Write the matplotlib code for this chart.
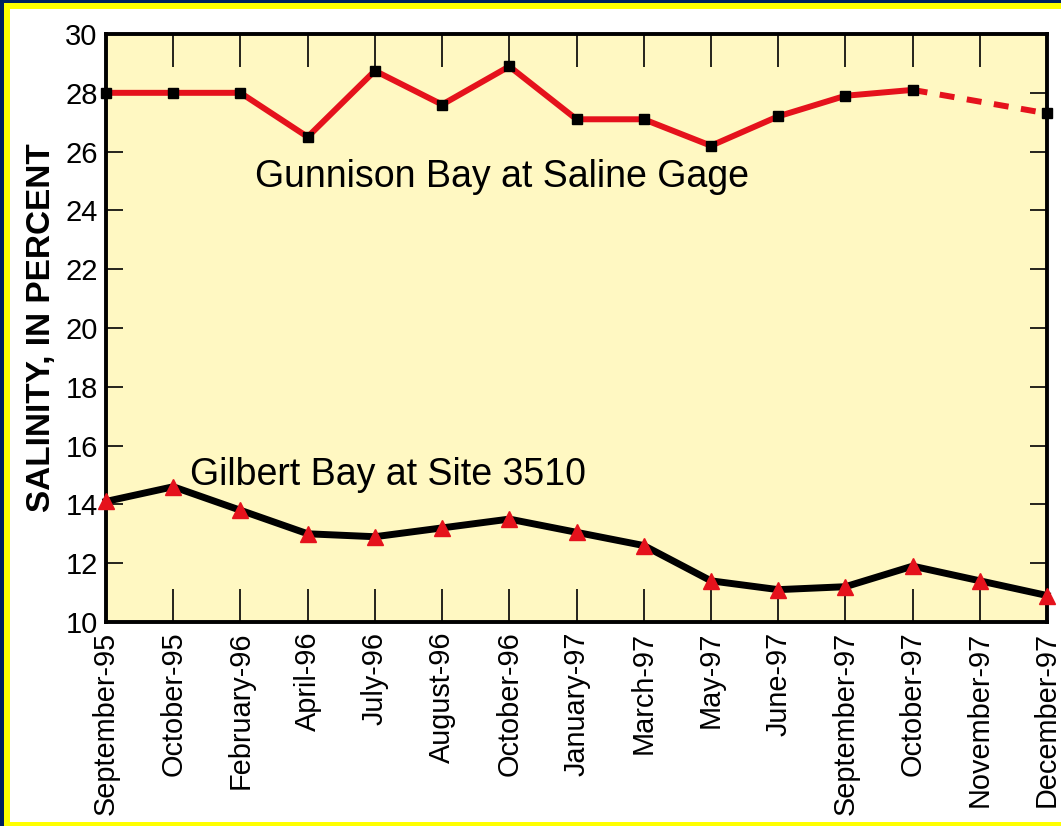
import numpy as np
import matplotlib
matplotlib.use("Agg")
import matplotlib.pyplot as plt
from matplotlib.patches import Rectangle

plt.rcParams['font.family'] = ['Liberation Sans', 'DejaVu Sans']

# data
months = ['September-95', 'October-95', 'February-96', 'April-96', 'July-96',
          'August-96', 'October-96', 'January-97', 'March-97', 'May-97',
          'June-97', 'September-97', 'October-97', 'November-97', 'December-97']
gunnison = [28.0, 28.0, 28.0, 26.5, 28.75, 27.6, 28.9, 27.1, 27.1, 26.2,
            27.2, 27.9, 28.1, np.nan, 27.3]
gilbert = [14.1, 14.6, 13.8, 13.0, 12.9, 13.2, 13.5, 13.05, 12.6, 11.4,
           11.1, 11.2, 11.9, 11.4, 10.9]
y_ticks = [10, 12, 14, 16, 18, 20, 22, 24, 26, 28, 30]

red = '#e5121c'
x = np.arange(len(months))
gun = np.array(gunnison)

fig = plt.figure(figsize=(10.61, 8.26), dpi=100, facecolor='#00205e')
# yellow frame and white panel
fig.patches.append(Rectangle((4 / 1061, 0), 1.2, 823 / 826, transform=fig.transFigure,
                             facecolor='#ffff00', edgecolor='none', zorder=-2))
fig.patches.append(Rectangle((10 / 1061, 4 / 826), 1.2, 813 / 826, transform=fig.transFigure,
                             facecolor='white', edgecolor='none', zorder=-1))

ax = fig.add_axes([0.0999, 0.247, 0.887, 0.7118])
ax.set_facecolor('#fff8c2')

# Gunnison Bay (solid up to October-97, dashed to December-97)
solid = slice(0, 13)
ax.plot(x[solid], gun[solid], color=red, lw=4.3, zorder=3, clip_on=False)
ax.plot([x[12], x[14]], [gun[12], gun[14]], color=red, lw=4.3,
        linestyle=(0, (2.5, 2.1)), zorder=3, clip_on=False)
ax.plot(x, gun, linestyle='none', marker='s', ms=7.8, color='black',
        zorder=4, clip_on=False)

# Gilbert Bay
ax.plot(x, gilbert, color='black', lw=5, zorder=3, clip_on=False)
ax.plot(x, gilbert, linestyle='none', marker='^', ms=11, color=red,
        zorder=4, clip_on=False)

ax.text(2.22, 24.8, 'Gunnison Bay at Saline Gage', fontsize=27, va='baseline')
ax.text(1.25, 14.66, 'Gilbert Bay at Site 3510', fontsize=27, va='baseline')

ax.set_xlim(0, 14)
ax.set_ylim(10, 30)
ax.set_xticks(x)
ax.set_xticklabels(months, rotation=90, fontsize=20.8)
ax.set_yticks(y_ticks)
ax.set_yticklabels([str(v) for v in y_ticks], fontsize=21)

ax.tick_params(axis='y', direction='in', length=12, width=1.2, right=True, pad=6)
ax.tick_params(axis='x', direction='in', length=24, width=1.2, top=True, pad=7)
for s in ax.spines.values():
    s.set_linewidth(2.8)

ax.set_ylabel('SALINITY, IN PERCENT', fontsize=24, fontweight='bold', labelpad=6)

fig.savefig('out.png', dpi=100, facecolor=fig.get_facecolor())
